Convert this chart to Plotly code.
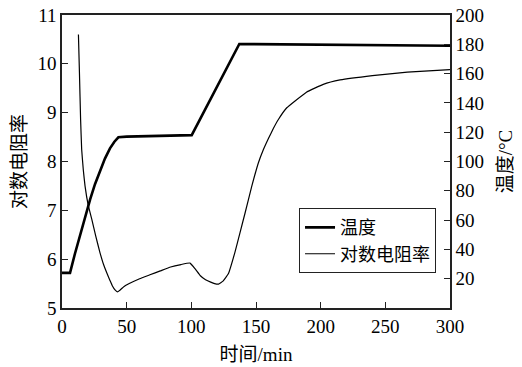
import plotly.graph_objects as go

# Temperature (right axis, °C)
time_temp = [0, 6.2, 10, 13.9, 17.8, 21.7, 25.5, 29.4, 33.2, 37.1, 40.5, 43.6, 50, 100.3, 137.1, 300]
temperature = [24, 24, 37, 50, 62, 74, 84.5, 94, 102, 109, 113.5, 116.5, 117, 118, 180.2, 179]

# Log resistivity (left axis)
time_res = [12.7, 13.5, 14.4, 15.2, 16.5, 17.8, 20.3, 23, 26, 29.4, 32, 34.6, 37, 39, 41,
            42.8, 45, 48, 52, 60, 68, 76, 84, 92, 99, 103, 107, 111, 115, 118, 121, 124.5,
            128.6, 133.8, 137.7, 141.5, 146.7, 151.8, 155.5, 159.6, 163.5, 167.3, 173.8, 180.2, 189,
            202, 215, 240, 267, 300]
log_res = [10.6, 9.8, 8.85, 8.25, 7.82, 7.5, 7.1, 6.82, 6.48, 6.13, 5.9, 5.72, 5.57, 5.45, 5.37,
           5.33, 5.37, 5.44, 5.5, 5.6, 5.68, 5.76, 5.84, 5.89, 5.92, 5.8, 5.66, 5.58, 5.53, 5.5, 5.49, 5.55,
           5.7, 6.15, 6.55, 6.94, 7.49, 7.97, 8.23, 8.47, 8.68, 8.86, 9.1, 9.24, 9.42,
           9.58, 9.67, 9.76, 9.83, 9.88]

x_ticks = [0, 50, 100, 150, 200, 250, 300]
y_ticks = [5, 6, 7, 8, 9, 10, 11]
y2_ticks = [20, 40, 60, 80, 100, 120, 140, 160, 180, 200]

FONT = "Liberation Serif, Noto Sans CJK SC, serif"

fig = go.Figure()
fig.add_trace(go.Scatter(x=time_temp, y=temperature, name="温度", yaxis="y2",
                         mode="lines", line=dict(color="black", width=2.6)))
fig.add_trace(go.Scatter(x=time_res, y=log_res, name="对数电阻率", yaxis="y",
                         mode="lines", line=dict(color="black", width=1.2, shape="spline", smoothing=0.3)))

axis_common = dict(showline=True, linecolor="#222", linewidth=1.5, ticks="inside",
                   ticklen=6, tickcolor="#222", tickwidth=1, showgrid=False, zeroline=False,
                   automargin=False, ticklabeloverflow="allow",
                   tickfont=dict(family=FONT, size=19, color="black"))

fig.update_layout(
    width=522, height=367,
    margin=dict(l=62, r=72, t=15, b=59, autoexpand=False),
    paper_bgcolor="white", plot_bgcolor="white",
    font=dict(family=FONT, color="black"),
    xaxis=dict(range=[0, 300], tickvals=x_ticks, mirror=True,
               title=dict(text="时间/min", font=dict(family=FONT, size=19), standoff=12),
               **axis_common),
    yaxis=dict(range=[5, 11], tickvals=y_ticks,
               title=dict(text="对数电阻率", font=dict(family=FONT, size=19), standoff=6),
               **axis_common),
    yaxis2=dict(range=[0, 200], tickvals=y2_ticks, overlaying="y", side="right",
                title=dict(text="温度/°C", font=dict(family=FONT, size=19), standoff=16),
                **axis_common),
    legend=dict(x=0.964, y=0.119, xanchor="right", yanchor="bottom",
                bgcolor="white", bordercolor="#222", borderwidth=1,
                font=dict(family=FONT, size=18), tracegroupgap=0),
    showlegend=True,
)

fig.write_html("out.html", config={"displayModeBar": False},
               post_script="document.body.style.margin='0';document.body.style.overflow='hidden';")
